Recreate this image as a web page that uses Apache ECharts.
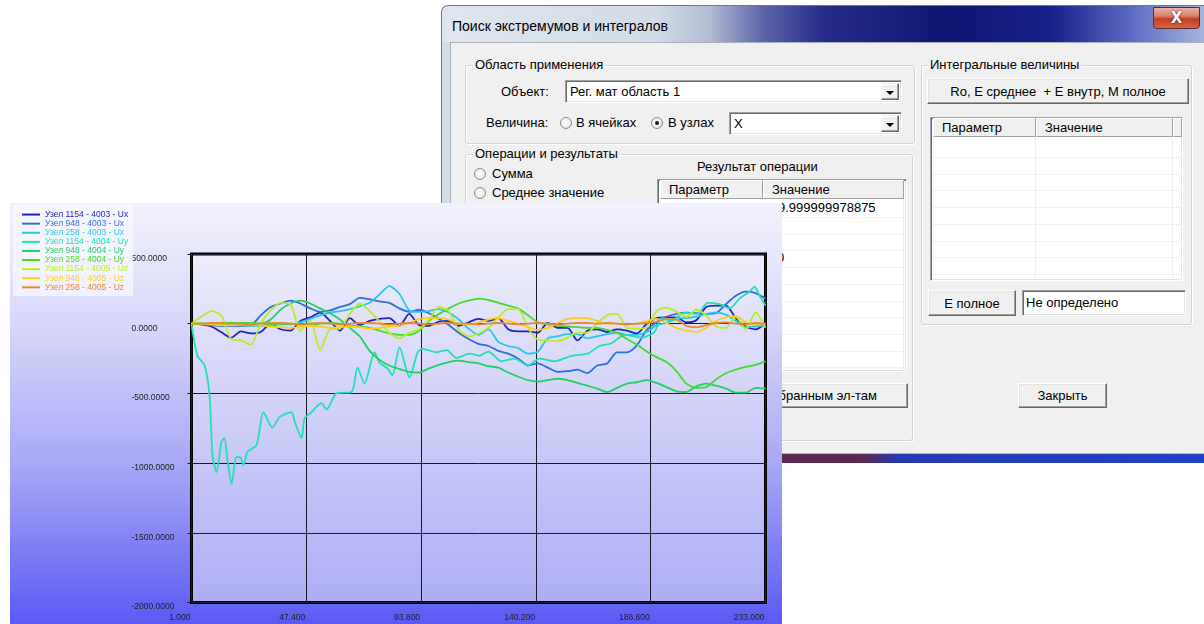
<!DOCTYPE html>
<html><head><meta charset="utf-8">
<script src="https://cdn.jsdelivr.net/npm/echarts@6/dist/echarts.min.js"></script>
<style>
html,body{margin:0;padding:0;width:1204px;height:624px;overflow:hidden;background:#fff;font-family:"Liberation Sans",Arial,sans-serif;}
.a{position:absolute;}
.t{position:absolute;font-size:13px;line-height:16px;color:#000;white-space:pre;}
.grp{position:absolute;border:1px solid #d3d3d3;box-shadow:1px 1px 0 #fff, inset 1px 1px 0 #fff;border-radius:3px;box-sizing:border-box;}
.gt{position:absolute;font-size:13px;line-height:16px;background:#f0f0f0;padding:0 2px;white-space:pre;}
.sunk{position:absolute;background:#fff;border:1px solid;border-color:#a0a0a0 #fff #fff #a0a0a0;box-shadow:inset 1px 1px 0 #696969, inset -1px -1px 0 #e3e3e3;box-sizing:border-box;overflow:hidden;}
.btn{position:absolute;background:#f0f0f0;border:1px solid;border-color:#fff #696969 #696969 #fff;box-shadow:inset -1px -1px 0 #a0a0a0, inset 1px 1px 0 #e3e3e3;box-sizing:border-box;font-size:13px;display:flex;align-items:center;justify-content:center;white-space:pre;}
.dd{position:absolute;top:2px;right:2px;width:18px;bottom:2px;background:#f0f0f0;border:1px solid;border-color:#f0f0f0 #696969 #696969 #f0f0f0;box-shadow:inset -1px -1px 0 #a0a0a0, inset 1px 1px 0 #fff;box-sizing:border-box;}
.dd::after{content:'';position:absolute;left:4px;top:7px;border-left:4px solid transparent;border-right:4px solid transparent;border-top:4px solid #000;}
.radio{position:absolute;width:12px;height:12px;border-radius:50%;border:1px solid #8e8f8f;background:radial-gradient(circle at 45% 45%, #fff 0%, #f2f2f2 45%, #d6d6d6 100%);box-sizing:border-box;}
.radio.on::after{content:'';position:absolute;left:3px;top:3px;width:4px;height:4px;border-radius:50%;background:#1a1a1a;}
.hd{position:absolute;top:0;height:19px;background:#f0f0f0;border:1px solid;border-color:#fff #a0a0a0 #a0a0a0 #fff;box-sizing:border-box;font-size:13px;line-height:17px;padding-left:8px;white-space:pre;}
.rl{position:absolute;height:1px;background:#efefef;}
.vl{position:absolute;width:1px;background:#efefef;}
#chart{position:absolute;left:10px;top:203px;width:772px;height:421px;z-index:10;background:linear-gradient(180deg,#f2f2fd 0%,#d6d6fa 30%,#a8a8f6 62%,#5a5af4 100%);}
</style>
</head><body>

<!-- dialog window -->
<div class="a" style="left:441px;top:5px;width:763px;height:37px;border-radius:7px 0 0 0;background:linear-gradient(90deg,#dfe6ef 0%,#d2dbe7 28%,#b2bcd4 35%,#5e66a8 42%,#262c88 50%,#0e1672 66%,#152088 80%,#5868c0 90%,#a6b4e0 100%);border-top:1px solid #6e7888;border-left:1px solid #6e7888;box-sizing:border-box;"></div>
<div class="t" style="left:452px;top:17px;font-size:14px;line-height:18px;">Поиск экстремумов и интегралов</div>
<div class="a" style="left:1153px;top:7px;width:47px;height:22px;border:1px solid #5e2a22;border-radius:0 0 4px 4px;background:linear-gradient(180deg,#eab1a4 0%,#d9806c 40%,#c43c20 55%,#d4664c 100%);box-sizing:border-box;color:#fff;font:bold 15px 'DejaVu Sans',sans-serif;line-height:20px;text-align:center;text-shadow:0 0 2px #400;">X</div>
<div class="a" style="left:441px;top:42px;width:9px;height:411px;background:#d4dde8;border-left:1px solid #6e7888;box-sizing:border-box;"></div>
<div class="a" style="left:450px;top:42px;width:754px;height:411px;background:#f0f0f0;border-left:1px solid #a8b0bc;border-top:1px solid #a8b0bc;box-sizing:border-box;"></div>
<div class="a" style="left:441px;top:453px;width:763px;height:10px;border-top:1px solid #b8b8c0;box-sizing:border-box;background:linear-gradient(90deg,#6a2a48 0%,#5a2850 55%,#2838b0 60%,#2044c8 100%);"></div>

<!-- group 1 -->
<div class="grp" style="left:465px;top:65px;width:450px;height:79px;"></div>
<div class="gt" style="left:473px;top:57px;">Область применения</div>
<div class="t" style="left:501px;top:84px;">Объект:</div>
<div class="sunk" style="left:565px;top:80px;width:337px;height:23px;"><div class="t" style="left:4px;top:3px;">Рег. мат область 1</div><div class="dd"></div></div>
<div class="t" style="left:486px;top:115px;">Величина:</div>
<div class="radio" style="left:560px;top:117px;"></div>
<div class="t" style="left:576px;top:115px;">В ячейках</div>
<div class="radio on" style="left:651px;top:117px;"></div>
<div class="t" style="left:668px;top:115px;">В узлах</div>
<div class="sunk" style="left:729px;top:112px;width:173px;height:23px;"><div class="t" style="left:4px;top:3px;">X</div><div class="dd"></div></div>

<!-- group 2 -->
<div class="grp" style="left:465px;top:154px;width:448px;height:287px;"></div>
<div class="gt" style="left:473px;top:146px;">Операции и результаты</div>
<div class="radio" style="left:474px;top:168px;"></div>
<div class="t" style="left:492px;top:166px;">Сумма</div>
<div class="radio" style="left:474px;top:187px;"></div>
<div class="t" style="left:492px;top:185px;">Среднее значение</div>
<div class="t" style="left:697px;top:159px;">Результат операции</div>
<div class="sunk" id="tab1" style="left:657px;top:179px;width:250px;height:193px;">
  <div class="hd" style="left:2px;width:103px;">Параметр</div>
  <div class="hd" style="left:105px;width:141px;">Значение</div>
</div>
<div class="t" style="left:778px;top:200px;">9.999999978875</div>
<div class="t" style="left:777px;top:250px;">0</div>
<div class="btn" style="left:640px;top:383px;width:268px;height:25px;justify-content:flex-end;padding-right:30px;">По выбранным эл-там</div>

<!-- group 3 -->
<div class="grp" style="left:921px;top:65px;width:271px;height:260px;"></div>
<div class="gt" style="left:928px;top:57px;">Интегральные величины</div>
<div class="btn" style="left:927px;top:78px;width:262px;height:26px;">Ro, E среднее  + E внутр, M полное</div>
<div class="sunk" id="tab2" style="left:930px;top:117px;width:253px;height:164px;">
  <div class="hd" style="left:2px;width:103px;">Параметр</div>
  <div class="hd" style="left:105px;width:137px;">Значение</div>
  <div class="hd" style="left:242px;width:9px;padding:0;"></div>
</div>
<div class="btn" style="left:928px;top:290px;width:88px;height:26px;">E полное</div>
<div class="sunk" style="left:1022px;top:290px;width:164px;height:26px;"><div class="t" style="left:3px;top:4px;">Не определено</div></div>
<div class="btn" style="left:1018px;top:383px;width:89px;height:25px;">Закрыть</div>

<div id="chart"></div>

<script>
// ---- table row lines (layout only) ----
(function(){
  var t1 = document.getElementById('tab1');
  for (var y = 37; y < 191; y += 16.7) {
    var d = document.createElement('div'); d.className='rl';
    d.style.cssText='left:2px;width:244px;top:'+Math.round(y)+'px;'; t1.appendChild(d);
  }
  var v = document.createElement('div'); v.className='vl'; v.style.cssText='left:104px;top:19px;height:171px;'; t1.appendChild(v);
  var v2 = document.createElement('div'); v2.className='vl'; v2.style.cssText='left:245px;top:19px;height:171px;'; t1.appendChild(v2);
  var t2 = document.getElementById('tab2');
  for (var y2 = 39; y2 < 162; y2 += 16.7) {
    var e = document.createElement('div'); e.className='rl';
    e.style.cssText='left:2px;width:249px;top:'+Math.round(y2)+'px;'; t2.appendChild(e);
  }
  var w1 = document.createElement('div'); w1.className='vl'; w1.style.cssText='left:104px;top:19px;height:142px;'; t2.appendChild(w1);
  var w2 = document.createElement('div'); w2.className='vl'; w2.style.cssText='left:241px;top:19px;height:142px;'; t2.appendChild(w2);
})();

// ---- data ----
const NAMES = [
  'Узел 1154 - 4003 - Ux','Узел 948 - 4003 - Ux','Узел 258 - 4003 - Ux',
  'Узел 1154 - 4004 - Uy','Узел 948 - 4004 - Uy','Узел 258 - 4004 - Uy',
  'Узел 1154 - 4005 - Uz','Узел 948 - 4005 - Uz','Узел 258 - 4005 - Uz'
];
const COLORS = ['#2222b8','#2e6ede','#26c6ee','#22e0b4','#22d062','#42da2e','#b8ee22','#f8cf1e','#ec8534'];

const X = [1,5,9,13,17,21,25,29,33,37,41,45,49,53,57,61,65,69,73,77,81,85,89,93,97,101,105,109,113,117,121,125,129,133,137,141,145,149,153,157,161,165,169,173,177,181,185,189,193,197,201,205,209,213,217,221,225,229,233];

const S1 = [0,-5,-20,-60,-100,-55,-70,-60,0,-40,-50,20,45,80,20,-50,40,-10,20,35,40,-15,70,-10,-15,15,20,-15,10,35,20,40,-40,-55,-55,-65,5,-30,-30,-120,-50,-40,-60,-40,-50,-70,0,40,45,45,10,25,120,130,130,40,-20,-40,0];
const S2 = [0,-5,-10,-15,-15,-15,-10,60,120,145,165,145,110,85,95,120,140,185,175,160,150,110,85,100,75,35,-10,-65,-110,-145,-160,-195,-215,-250,-300,-285,-315,-345,-340,-330,-355,-300,-285,-205,-205,-155,-45,10,50,70,80,75,70,75,140,200,230,220,180];
const S3 = [0,0,0,0,-5,-10,-15,-15,-10,-5,-5,10,35,60,80,90,105,125,150,210,270,215,95,85,90,105,80,30,-35,-80,-40,-130,-160,-175,-215,-200,-105,-90,-75,-75,-105,-90,-75,-65,-80,-80,-60,-10,5,40,40,50,70,80,65,20,-25,-20,-15];
const S4_X = [1,3.4,6.3,8.3,9.5,11.1,13.1,14.3,15.6,17.2,19.2,20.8,22.0,23.6,27.3,30.1,33.7,36.6,41.4,42.6,45.5,46.7,49.5,53.5,55.6,59.6,65.7,68.1,70.9,75.0,77.0,80.2,82.2,85.1,89.1,92.4,94.4,100.0,104.1,108.1,113.4,117.4,121.0,126.3,131.6,136.9,141.7,147.8,154.6,161.1,165.9,170.8,176.0,182.9,188.1,191.0,195.0,200.3,205.5,209.6,214.4,218.5,222.5,226.6,228.6,230.6,233];
const S4 = [0,-230,-300,-515,-945,-1065,-850,-820,-990,-1150,-955,-960,-1015,-920,-870,-635,-745,-670,-635,-695,-820,-680,-635,-570,-615,-500,-490,-315,-430,-205,-280,-320,-370,-170,-385,-205,-180,-205,-190,-245,-215,-230,-200,-270,-250,-300,-250,-270,-230,-215,-160,-140,-80,-100,-60,40,20,80,70,150,140,110,180,230,265,200,130];
const S5 = [0,0,0,5,5,0,0,0,30,100,145,165,145,110,75,30,-30,-90,-195,-260,-300,-325,-345,-350,-320,-295,-275,-265,-275,-285,-305,-315,-350,-380,-405,-415,-405,-395,-405,-425,-445,-465,-490,-460,-430,-420,-405,-425,-455,-485,-490,-450,-430,-445,-465,-495,-495,-460,-465];
const S6 = [0,0,-5,-5,0,5,5,0,-5,0,0,-5,-10,0,5,0,-10,-20,-30,-50,-70,-80,-80,-50,20,70,110,145,165,180,170,150,130,110,60,10,-5,-15,-20,-25,-30,-30,-45,-65,-110,-150,-200,-240,-275,-340,-430,-460,-455,-400,-355,-330,-310,-295,-270];
const S7 = [0,50,90,60,-110,-120,-150,0,95,150,140,-50,20,-190,-40,-35,70,145,90,15,-65,-105,-65,-40,30,120,90,-45,-90,-70,-30,45,105,105,-30,-115,-120,-125,-100,-65,-65,5,60,70,-30,-35,-25,90,115,85,50,100,60,-20,-30,50,-40,80,-30];
const S8 = [0,0,-5,-10,-10,-5,-5,-10,-20,-25,-30,-25,-15,-20,-30,-25,-20,-25,-35,-30,-20,-15,5,35,40,40,30,0,-5,10,30,40,20,0,-25,-45,-30,5,35,40,40,20,0,0,-5,0,20,35,5,-30,-50,-60,-30,20,45,55,10,-5,0];
const S9 = [0,0,5,5,0,0,-5,0,5,5,0,-5,0,5,0,-5,0,5,5,0,-5,0,5,0,-5,0,5,0,0,-5,0,5,0,-5,0,5,0,-5,0,5,5,0,5,0,-5,0,5,15,35,30,-15,-25,-10,5,10,0,-5,5,0];

const X_MIN = 1, X_MAX = 233, X_STEP = 46.4;
const Y_MIN = -2000, Y_MAX = 500, Y_STEP = 500;

const SERIES_X = [X, X, X, S4_X, X, X, X, X, X];
const SERIES_Y = [S1, S2, S3, S4, S5, S6, S7, S8, S9];

const chart = echarts.init(document.getElementById('chart'), null, {renderer:'canvas'});
const FONT = 'Liberation Sans';
chart.setOption({
  animation: false,
  backgroundColor: 'transparent',
  legend: {
    left: 3, top: 2, orient: 'vertical', itemGap: 0, itemWidth: 18, itemHeight: 2, icon: 'rect',
    padding: [5, 5, 4, 9], backgroundColor: 'rgba(250,250,255,0.7)', borderRadius: 0,
    textStyle: {fontSize: 8.5, fontFamily: FONT, lineHeight: 9.1},
    data: NAMES.map((n, i) => ({name: n, textStyle: {color: COLORS[i]}}))
  },
  grid: {
    left: 181.5, top: 51, right: 16.5, bottom: 21.5, show: true,
    borderColor: '#000', borderWidth: 3,
    backgroundColor: {type:'linear', x:0, y:0, x2:0, y2:1, colorStops:[{offset:0,color:'#ededfc'},{offset:1,color:'#adadf5'}]}
  },
  xAxis: {
    type: 'value', min: X_MIN, max: X_MAX, interval: X_STEP,
    axisLine: {show: false},
    axisTick: {show: true, length: 5, lineStyle: {color: '#111', width: 1}},
    splitLine: {show: true, lineStyle: {color: '#1c1c28', width: 1}},
    axisLabel: {formatter: v => v.toFixed(3), align: 'right', margin: 11, fontSize: 8.5, fontFamily: FONT, color: '#222', padding: [0, 1, 0, 0]}
  },
  yAxis: {
    type: 'value', min: Y_MIN, max: Y_MAX, interval: Y_STEP,
    axisLine: {show: false},
    axisTick: {show: true, length: 4, lineStyle: {color: '#111', width: 1}},
    splitLine: {show: true, lineStyle: {color: '#1c1c28', width: 1}},
    axisLabel: {formatter: v => v.toFixed(4), align: 'left', verticalAlign: 'top', margin: 60, fontSize: 8.5, fontFamily: FONT, color: '#222', padding: [0, 0, 0, 0]}
  },
  series: NAMES.map((n, i) => ({
    name: n, type: 'line', showSymbol: false, smooth: 0.25,
    data: SERIES_X[i].map((x, j) => [x, SERIES_Y[i][j]]),
    lineStyle: {width: 1.8, color: COLORS[i]},
    itemStyle: {color: COLORS[i]},
    emphasis: {disabled: true}
  }))
});
</script>
</body></html>
